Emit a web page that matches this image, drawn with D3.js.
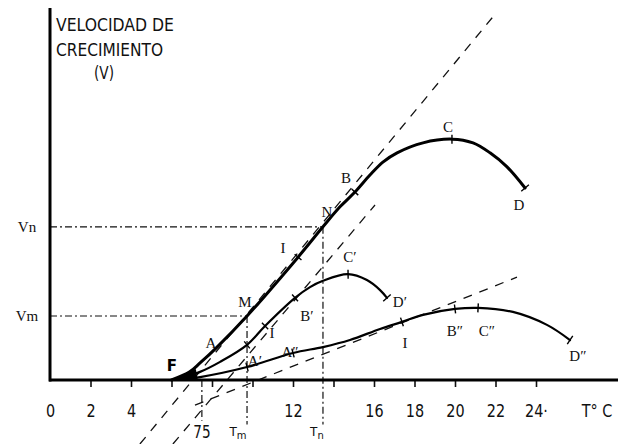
<!DOCTYPE html>
<html>
<head>
<meta charset="utf-8">
<script src="https://cdn.jsdelivr.net/npm/d3@7"></script>
<style>
  body { margin: 0; background: #fff; }
  svg { display: block; }
</style>
</head>
<body>
<div id="chart"></div>
<script>
// temperature ticks (°C) and the labels printed under them
const tickTemps = [0, 2, 4, 6, 8, 10, 12, 14, 16, 18, 20, 22, 24];
const tickLabels = ["0", "2", "4", "", "", "", "12", "", "16", "18", "20", "22", "24·"];

// growth-rate curves, [temperature, velocity] (velocity in arbitrary units)
const curveMain = [[6.0, 0], [6.9, 0.22], [7.41, 0.46], [8.25, 0.89], [9.73, 1.73], [12.25, 3.32],
  [13.48, 4.14], [14.32, 4.68], [15.06, 5.08], [15.8, 5.54], [16.44, 5.89], [17.14, 6.14],
  [18.42, 6.41], [19.85, 6.51], [20.89, 6.41], [21.73, 6.14], [22.57, 5.76], [23.46, 5.19]];
const curvePrime = [[6.1, 0], [7.41, 0.22], [8.4, 0.49], [9.73, 0.95], [10.62, 1.46], [12.1, 2.22],
  [12.84, 2.51], [13.48, 2.68], [14.72, 2.86], [15.65, 2.7], [16.3, 2.43], [16.64, 2.22]];
const curveSecond = [[6.1, 0], [7.41, 0.08], [9.73, 0.35], [12.0, 0.73], [13.48, 0.89], [14.81, 1.08],
  [16.3, 1.38], [17.38, 1.57], [18.42, 1.76], [20.0, 1.92], [21.14, 1.95], [22.86, 1.84],
  [24.54, 1.49], [25.68, 1.08]];

// indexes of the small cross marks on each curve
const marksMain = [5, 8, 13];
const marksPrime = [3, 4, 5, 8];
const marksSecond = [2, 3, 7, 9, 10];

// reference temperatures / velocities
const tM = 9.73, tN = 13.48, vM = 1.73, vN = 4.14, t75 = 7.5;

// dashed tangents, [[t, v], [t, v]]
const tangents = [
  [[4.44, -1.73], [22.0, 9.9]],
  [[6.07, -1.73], [16.05, 4.73]],
  [[7.16, -0.68], [23.06, 2.78]]
];

// point letters [text, t, v]
const pointLabels = [
  ["A", 7.95, 1.0], ["M", 9.63, 2.11], ["I", 11.5, 3.57], ["N", 13.68, 4.54],
  ["B", 14.62, 5.46], ["C", 19.65, 6.84], ["D", 23.16, 4.73],
  ["B′", 12.69, 1.73], ["I", 10.96, 1.27], ["C′", 14.81, 3.32], ["D′", 17.28, 2.11],
  ["A′", 10.12, 0.51], ["A″", 11.85, 0.76], ["I", 17.53, 1.0],
  ["B″", 20.0, 1.32], ["C″", 21.58, 1.32], ["D″", 26.07, 0.65]
];

const width = 635, height = 444;

const svg = d3.select("#chart").append("svg")
  .attr("width", width)
  .attr("height", height);

const x = d3.scaleLinear().domain([0, 24]).range([50, 536]);
const y = d3.scaleLinear().domain([0, 10]).range([380, 10]);

const line = d3.line()
  .x(d => x(d[0]))
  .y(d => y(d[1]))
  .curve(d3.curveCatmullRom.alpha(0.5));

// dashed tangents
svg.selectAll(".tangent")
  .data(tangents)
  .enter()
  .append("line")
  .attr("class", "tangent")
  .attr("x1", d => x(d[0][0])).attr("y1", d => y(d[0][1]))
  .attr("x2", d => x(d[1][0])).attr("y2", d => y(d[1][1]))
  .style("stroke", "#111")
  .style("stroke-width", 1.3)
  .style("stroke-dasharray", "9,8");

// dash-dot guides
const guides = [
  [[0, vN], [tN, vN]],
  [[0, vM], [tM, vM]],
  [[tN, vN], [tN, -1.2]],
  [[tM, vM], [tM, -1.2]],
  [[t75, 0], [t75, -1.1]]
];
svg.selectAll(".guide")
  .data(guides)
  .enter()
  .append("line")
  .attr("class", "guide")
  .attr("x1", d => x(d[0][0])).attr("y1", d => y(d[0][1]))
  .attr("x2", d => x(d[1][0])).attr("y2", d => y(d[1][1]))
  .style("stroke", "#111")
  .style("stroke-width", 1.2)
  .style("stroke-dasharray", "7,3,2,3");

// x axis ticks and labels
const xAxis = svg.append("g")
  .attr("transform", "translate(0," + y(0) + ")")
  .call(d3.axisBottom(x)
    .tickValues(tickTemps)
    .tickSize(7)
    .tickPadding(17)
    .tickFormat((d, i) => tickLabels[i]));
xAxis.select(".domain").remove();
xAxis.selectAll(".tick line")
  .style("stroke", "#111")
  .style("stroke-width", 1.6)
  .style("opacity", d => d === 0 ? 0 : 1);
xAxis.selectAll("text")
  .style("font-family", "'DejaVu Sans', sans-serif")
  .style("font-size", "18px")
  .style("fill", "#111")
  .attr("transform", "scale(0.8,1)");

// axis lines
svg.append("line")
  .attr("x1", x(0)).attr("y1", 8).attr("x2", x(0)).attr("y2", y(0) + 1.5)
  .style("stroke", "#000").style("stroke-width", 3);
svg.append("line")
  .attr("x1", x(0) - 1).attr("y1", y(0)).attr("x2", 618).attr("y2", y(0))
  .style("stroke", "#000").style("stroke-width", 3);

// curves
const curves = [
  { pts: curveMain, w: 3, marks: marksMain },
  { pts: curvePrime, w: 2.2, marks: marksPrime },
  { pts: curveSecond, w: 2.2, marks: marksSecond }
];
curves.forEach(c => {
  svg.append("path")
    .attr("d", line(c.pts))
    .style("fill", "none")
    .style("stroke", "#000")
    .style("stroke-width", c.w)
    .style("stroke-linecap", "round");

  // short marks across the curve, plus an end cap
  const idx = c.marks.concat([c.pts.length - 1]);
  idx.forEach((k, j) => {
    const p = c.pts[k];
    const a = c.pts[Math.max(0, k - 1)], b = c.pts[Math.min(c.pts.length - 1, k + 1)];
    const dx = x(b[0]) - x(a[0]), dy = y(b[1]) - y(a[1]);
    const len = Math.hypot(dx, dy);
    const nx = -dy / len, ny = dx / len;
    const h = j === idx.length - 1 ? 5 : 4.5;
    svg.append("line")
      .attr("x1", x(p[0]) - nx * h).attr("y1", y(p[1]) - ny * h)
      .attr("x2", x(p[0]) + nx * h).attr("y2", y(p[1]) + ny * h)
      .style("stroke", "#000")
      .style("stroke-width", 1.4);
  });
});

// F blob where the curves leave the axis
svg.append("path")
  .attr("d", "M" + x(5.95) + "," + y(0) + "L" + x(7.2) + "," + y(0.3) + "L" + x(7.3) + "," + y(0) + "Z")
  .style("fill", "#000");

// point letters
svg.selectAll(".pt")
  .data(pointLabels)
  .enter()
  .append("text")
  .attr("class", "pt")
  .attr("x", d => x(d[1]))
  .attr("y", d => y(d[2]))
  .attr("dy", "0.35em")
  .attr("text-anchor", "middle")
  .style("font-family", "'Liberation Serif', serif")
  .style("font-size", "15px")
  .style("fill", "#111")
  .text(d => d[0]);

svg.append("text")
  .attr("x", x(6.02)).attr("y", y(0.38)).attr("dy", "0.35em")
  .attr("text-anchor", "middle")
  .style("font-family", "'DejaVu Sans', sans-serif")
  .style("font-weight", "bold")
  .style("font-size", "15px")
  .text("F");

// Vn / Vm
[["Vn", vN], ["Vm", vM]].forEach(d => {
  svg.append("text")
    .attr("x", x(0) - 23).attr("y", y(d[1])).attr("dy", "0.35em")
    .attr("text-anchor", "middle")
    .style("font-family", "'Liberation Serif', serif")
    .style("font-size", "15px")
    .style("fill", "#111")
    .text(d[0]);
});

// labels under the axis
const lab = svg.append("g")
  .style("font-family", "'DejaVu Sans', sans-serif")
  .style("fill", "#111");
lab.append("text")
  .attr("transform", "translate(" + x(t75) + ",438) scale(0.8,1)")
  .attr("text-anchor", "middle")
  .style("font-size", "17px")
  .text("75");
[["T", "m", tM - 0.3], ["T", "n", tN - 0.15]].forEach(d => {
  const t = lab.append("text")
    .attr("x", x(d[2]) - 3).attr("y", 436)
    .attr("text-anchor", "middle")
    .style("font-size", "12px");
  t.append("tspan").text(d[0]);
  t.append("tspan").attr("dy", 3).style("font-size", "10px").text(d[1]);
});
lab.append("text")
  .attr("transform", "translate(597,417) scale(0.8,1)")
  .attr("text-anchor", "middle")
  .style("font-size", "18px")
  .text("T° C");

// y axis title
const title = svg.append("g")
  .style("font-family", "'DejaVu Sans', sans-serif")
  .style("font-size", "17px")
  .style("fill", "#111");
title.append("text").attr("x", 56).attr("y", 31)
  .attr("textLength", 118).attr("lengthAdjust", "spacingAndGlyphs")
  .text("VELOCIDAD DE");
title.append("text").attr("x", 56).attr("y", 56)
  .attr("textLength", 107).attr("lengthAdjust", "spacingAndGlyphs")
  .text("CRECIMIENTO");
title.append("text").attr("x", 94).attr("y", 79)
  .attr("textLength", 20).attr("lengthAdjust", "spacingAndGlyphs")
  .text("(V)");
</script>
</body>
</html>
